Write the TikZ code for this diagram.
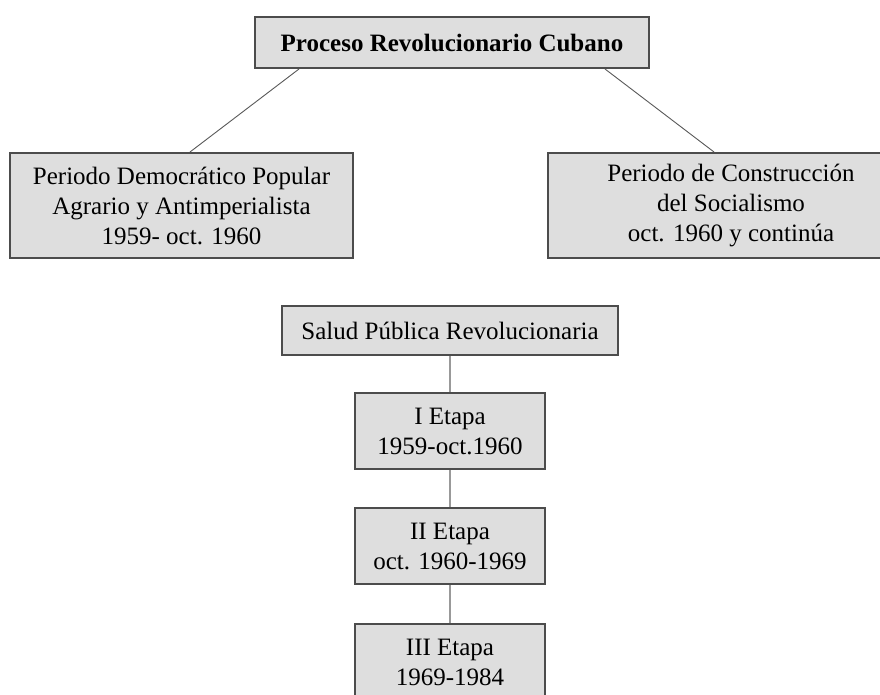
\documentclass[tikz,border=0pt]{standalone}
\usepackage{fontspec}
\setmainfont{Liberation Serif}
\usetikzlibrary{positioning}

\tikzset{
    etapa/.style={draw=black!70, line width=2pt, fill=black!13, inner sep=0pt,
        align=center, font=\fontsize{25}{30}\selectfont},
    enlace/.style={draw=black!40, line width=1.8pt},
    rama/.style={draw=black!65, line width=0.9pt}
}

\begin{document}
\begin{tikzpicture}[x=1pt, y=-1pt]
    \clip (0,0) rectangle (880,695);
    \fill[white] (0,0) rectangle (880,695);

    \node[etapa, minimum width=394pt, minimum height=51pt, font=\fontsize{25}{30}\selectfont\bfseries] (proceso) at (452,42.5) {Proceso Revolucionario Cubano};

    \node[etapa, minimum width=343pt, minimum height=105pt] (democratico) at (181.5,205.5)
        {Periodo Democrático Popular\\Agrario y Antimperialista\\1959- oct. 1960};
    \node[etapa, minimum width=366pt, minimum height=105pt] (socialismo) at (731,205.5)
        {Periodo de Construcción\\del Socialismo\\oct. 1960 y continúa};

    % tree of the stages
    \node[etapa, minimum width=336pt, minimum height=49pt] (salud) at (450,330.5) {Salud Pública Revolucionaria};
    \node[etapa, minimum width=190pt, minimum height=76pt] (etapaI) [below=36pt of salud] {I Etapa\\1959-oct.1960};
    \node[etapa, minimum width=190pt, minimum height=76pt] (etapaII) [below=37pt of etapaI] {II Etapa\\oct. 1960-1969};
    \node[etapa, minimum width=190pt, minimum height=76pt] (etapaIII) [below=38pt of etapaII] {III Etapa\\1969-1984};

    \draw[rama] ([xshift=45pt]proceso.south west) -- ([xshift=8.5pt]democratico.north);
    \draw[rama] ([xshift=-45pt]proceso.south east) -- ([xshift=-17pt]socialismo.north);

    \draw[enlace] (salud) -- (etapaI);
    \draw[enlace] (etapaI) -- (etapaII);
    \draw[enlace] (etapaII) -- (etapaIII);
\end{tikzpicture}
\end{document}
